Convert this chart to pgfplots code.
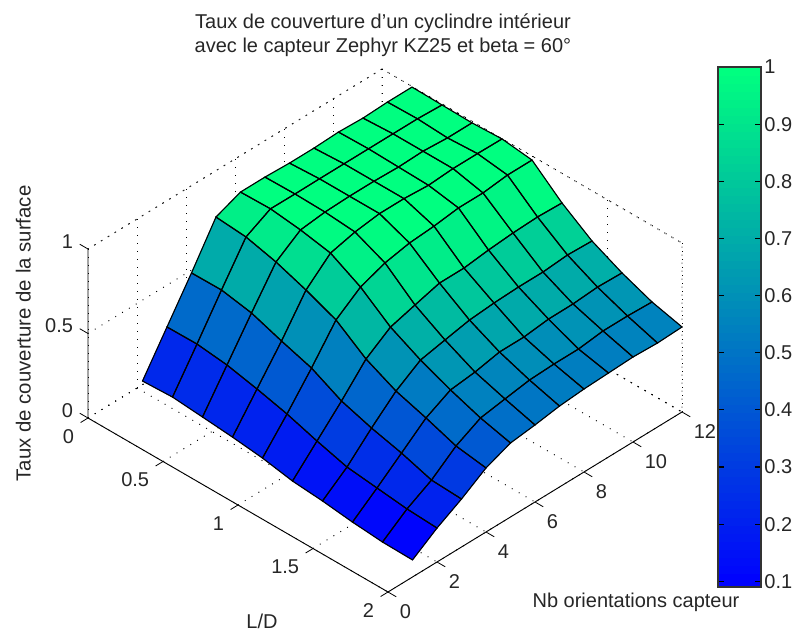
\documentclass[border=0pt]{standalone}
\usepackage{pgfplots}
\usepackage{pgfplotstable}
\usepackage{fontspec}
\setmainfont{Liberation Sans}
\pgfplotsset{compat=1.18}
\pgfplotstableread{
x y z
0.2 1 0.233
0.4 1 0.241
0.6 1 0.226
0.8 1 0.210
1.0 1 0.189
1.2 1 0.156
1.4 1 0.141
1.6 1 0.119
1.8 1 0.104
2.0 1 0.101
0.2 2 0.464
0.4 2 0.466
0.6 2 0.445
0.8 2 0.406
1.0 2 0.361
1.2 2 0.304
1.4 2 0.253
1.6 2 0.232
1.8 2 0.211
2.0 2 0.201
0.2 3 0.695
0.4 3 0.697
0.6 3 0.664
0.8 3 0.601
1.0 3 0.544
1.2 3 0.452
1.4 3 0.395
1.6 3 0.350
1.8 3 0.293
2.0 3 0.284
0.2 4 0.937
0.4 4 0.922
0.6 4 0.877
0.8 4 0.814
1.0 4 0.740
1.2 4 0.612
1.4 4 0.525
1.6 4 0.469
1.8 4 0.406
2.0 4 0.379
0.2 5 0.996
0.4 5 1.000
0.6 5 0.978
0.8 5 0.944
1.0 5 0.846
1.2 5 0.712
1.4 5 0.620
1.6 5 0.546
1.8 5 0.483
2.0 5 0.438
0.2 6 0.996
0.4 6 0.999
0.6 6 0.995
0.8 6 0.980
1.0 6 0.900
1.2 6 0.754
1.4 6 0.650
1.6 6 0.563
1.8 6 0.507
2.0 6 0.456
0.2 7 0.990
0.4 7 1.000
0.6 7 1.000
0.8 7 1.000
1.0 7 0.929
1.2 7 0.795
1.4 7 0.679
1.6 7 0.593
1.8 7 0.530
2.0 7 0.479
0.2 8 0.990
0.4 8 1.000
0.6 8 1.000
0.8 8 1.000
1.0 8 0.940
1.2 8 0.795
1.4 8 0.691
1.6 8 0.593
1.8 8 0.536
2.0 8 0.491
0.2 9 0.996
0.4 9 1.000
0.6 9 0.995
0.8 9 0.990
1.0 9 0.959
1.2 9 0.813
1.4 9 0.697
1.6 9 0.610
1.8 9 0.536
2.0 9 0.497
0.2 10 0.990
0.4 10 1.000
0.6 10 1.000
0.8 10 1.000
1.0 10 0.959
1.2 10 0.825
1.4 10 0.697
1.6 10 0.611
1.8 10 0.554
2.0 10 0.503
0.2 11 0.996
0.4 11 1.000
0.6 11 0.990
0.8 11 1.000
1.0 11 0.976
1.2 11 0.831
1.4 11 0.709
1.6 11 0.622
1.8 11 0.554
2.0 11 0.497
0.2 12 0.996
0.4 12 0.993
0.6 12 0.990
0.8 12 0.998
1.0 12 0.976
1.2 12 0.825
1.4 12 0.703
1.6 12 0.617
1.8 12 0.548
2.0 12 0.503
}\surfdata
\pgfplotsset{winterbar/.style={colormap={winter}{rgb=(0,0,1) rgb=(0,1,0.5)},point meta min=0.09,point meta max=1}}
\definecolor{txt}{gray}{0.15}
\begin{document}
\begin{tikzpicture}
\path[use as bounding box] (0,0) rectangle (597pt,476.25pt);
\begin{axis}[
  at={(66pt,162.75pt)}, anchor=origin,
  x={(112.5pt,-65.25pt)}, y={(18.375pt,11.25pt)}, z={(0pt,126.75pt)},
  xmin=0,xmax=2,ymin=0,ymax=12,zmin=0,zmax=1,
  winterbar, clip=false,
  axis line style={draw=none},
  xtick={0,0.5,1,1.5,2}, xticklabels={0,0.5,1,1.5,2},
  ytick={0,2,4,6,8,10,12}, ztick={0,0.5,1}, zticklabels={0,0.5,1},
  xtick pos=right, ytick pos=right, ztick pos=left,
  xticklabel pos=left, yticklabel pos=left, zticklabel pos=left,
  grid=major,
  grid style={black,line width=0.7pt,dash pattern=on 0.7pt off 5.3pt},
  tick align=outside, major tick length=5.5pt,
  tick style={draw=none},
  every tick label/.append style={font=\fontsize{15}{17}\selectfont,text=txt},
  xticklabel style={anchor=east,xshift=-2.2pt,yshift=-11pt},
  yticklabel style={anchor=west,xshift=0.6pt,yshift=-11.8pt},
  zticklabel style={anchor=east,xshift=-3pt,yshift=8.5pt},
  /pgf/number format/assume math mode=true,
  title={Taux de couverture d'un cyclindre intérieur\\avec le capteur Zephyr KZ25 et beta = 60°},
  title style={at={(axis cs:0,12,1)},anchor=center,align=center,xshift=0.75pt,yshift=19.5pt,font=\fontsize{15}{18}\selectfont,text=txt},
  xlabel={L/D}, xlabel style={at={(axis cs:1,0,0)},anchor=center,xshift=18pt,yshift=-87pt,font=\fontsize{15}{17}\selectfont,text=txt,rotate=0,sloped=false},
  ylabel={Nb orientations capteur}, ylabel style={at={(axis cs:2,12,0)},anchor=center,xshift=-34.5pt,yshift=-143pt,font=\fontsize{15}{17}\selectfont,text=txt,rotate=0,sloped=false},
  zlabel={Taux de couverture de la surface}, zlabel style={at={(axis cs:0,0,0.5)},anchor=center,xshift=0pt,yshift=48.5pt,sloped=false,font=\fontsize{15.3}{17}\selectfont,text=txt},
]
\draw[black,line width=0.7pt,dash pattern=on 0.7pt off 5.3pt]
  (axis cs:0,0,0)--(axis cs:0,12,0)--(axis cs:2,12,0)--(axis cs:2,12,1)--(axis cs:0,12,1)--(axis cs:0,0,1)
  (axis cs:0,12,0)--(axis cs:0,12,1);
\draw[black,line width=0.7pt] (axis cs:0,0,1)--(axis cs:0,0,0)--(axis cs:2,0,0)--(axis cs:2,12,0);
\draw[black,line width=0.6pt]
  (axis cs:0,0,0)--(axis cs:0,-0.3,0) (axis cs:0.5,0,0)--(axis cs:0.5,-0.3,0)
  (axis cs:1,0,0)--(axis cs:1,-0.3,0) (axis cs:1.5,0,0)--(axis cs:1.5,-0.3,0)
  (axis cs:2,0,0)--(axis cs:2,-0.3,0)
  (axis cs:2,0,0)--(axis cs:2.055,0,0) (axis cs:2,2,0)--(axis cs:2.055,2,0)
  (axis cs:2,4,0)--(axis cs:2.055,4,0) (axis cs:2,6,0)--(axis cs:2.055,6,0)
  (axis cs:2,8,0)--(axis cs:2.055,8,0) (axis cs:2,10,0)--(axis cs:2.055,10,0)
  (axis cs:2,12,0)--(axis cs:2.055,12,0)
  (axis cs:0,0,0)--(axis cs:-0.055,0,0) (axis cs:0,0,0.5)--(axis cs:-0.055,0,0.5)
  (axis cs:0,0,1)--(axis cs:-0.055,0,1);
\addplot3[surf,shader=flat corner,z buffer=none,mesh/cols=10,mesh/rows=12,point meta=z] table[x=x,y=y,z=z]{\surfdata};
\addplot3[mesh,black,z buffer=none,mesh/cols=10,mesh/rows=12,line width=0.85pt] table[x=x,y=y,z=z]{\surfdata};
\end{axis}
\begin{axis}[
  at={(538.5pt,36pt)}, anchor=south west, scale only axis, width=32.25pt, height=390pt,
  xmin=0,xmax=1,ymin=0.09,ymax=1, xtick=\empty,
  ytick={0.1,0.2,0.3,0.4,0.5,0.6,0.7,0.8,0.9,1}, yticklabels={0.1,0.2,0.3,0.4,0.5,0.6,0.7,0.8,0.9,1},
  yticklabel pos=right, tick align=inside, major tick length=4.5pt,
  tick style={black,line width=0.8pt}, axis line style={black!80,line width=0.8pt},
  every tick label/.append style={font=\fontsize{15}{17}\selectfont,text=txt},
  yticklabel style={xshift=-1pt},
  axis on top, winterbar,
]
\addplot[surf,shader=flat,mesh/cols=2,point meta=y] table[row sep=\\]{
0 .09\\1 .09\\0 .114\\1 .114\\0 .128\\1 .128\\0 .142\\1 .142\\0 .156\\1 .156\\0 .170\\1 .170\\0 .184\\1 .184\\0 .198\\1 .198\\0 .2125\\1 .2125\\0 .227\\1 .227\\0 .241\\1 .241\\0 .255\\1 .255\\0 .269\\1 .269\\0 .283\\1 .283\\0 .297\\1 .297\\0 .311\\1 .311\\0 .325\\1 .325\\0 .339\\1 .339\\0 .353\\1 .353\\0 .367\\1 .367\\0 .381\\1 .381\\0 .395\\1 .395\\0 .409\\1 .409\\0 .423\\1 .423\\0 .4375\\1 .4375\\0 .452\\1 .452\\0 .466\\1 .466\\0 .480\\1 .480\\0 .494\\1 .494\\0 .508\\1 .508\\0 .522\\1 .522\\0 .536\\1 .536\\0 .55\\1 .55\\0 .564\\1 .564\\0 .578\\1 .578\\0 .592\\1 .592\\0 .606\\1 .606\\0 .620\\1 .620\\0 .634\\1 .634\\0 .648\\1 .648\\0 .6625\\1 .6625\\0 .677\\1 .677\\0 .691\\1 .691\\0 .705\\1 .705\\0 .719\\1 .719\\0 .733\\1 .733\\0 .747\\1 .747\\0 .761\\1 .761\\0 .775\\1 .775\\0 .789\\1 .789\\0 .803\\1 .803\\0 .817\\1 .817\\0 .831\\1 .831\\0 .845\\1 .845\\0 .859\\1 .859\\0 .873\\1 .873\\0 .8875\\1 .8875\\0 .902\\1 .902\\0 .916\\1 .916\\0 .930\\1 .930\\0 .944\\1 .944\\0 .958\\1 .958\\0 .972\\1 .972\\0 .986\\1 .986\\0 1\\1 1\\
};
\end{axis}
\end{tikzpicture}
\end{document}
